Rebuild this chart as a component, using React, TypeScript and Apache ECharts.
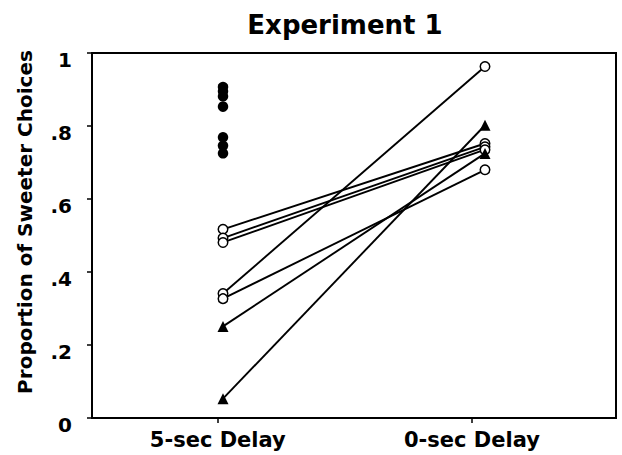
import React, { useEffect, useRef } from "react";
import * as echarts from "echarts";

const CATEGORIES = ["5-sec Delay", "0-sec Delay"];
const Y_TICK_LABELS = ["0", ".2", ".4", ".6", ".8", "1"];
const TITLE = "Experiment 1";
const Y_NAME = "Proportion of Sweeter Choices";

// subjects with open circles: 5-sec value, 0-sec value
const CIRCLE_5SEC = [0.517, 0.493, 0.481, 0.341, 0.327];
const CIRCLE_0SEC = [0.752, 0.743, 0.735, 0.963, 0.68];
// subjects with triangles
const TRIANGLE_5SEC = [0.251, 0.053];
const TRIANGLE_0SEC = [0.725, 0.802];
// filled circles at 5-sec only
const FILLED_5SEC = [0.907, 0.895, 0.881, 0.853, 0.769, 0.746, 0.725];

const FONT = "DejaVu Sans";

export default function App() {
  const ref = useRef<HTMLDivElement>(null);
  useEffect(() => {
    document.body.style.margin = "0";
    const chart = echarts.init(ref.current!, null, { renderer: "svg" });
    const lineStyle = { color: "#000", width: 1.9, opacity: 1 };
    const series: any[] = [];
    CIRCLE_5SEC.forEach((v, i) => {
      series.push({
        type: "line",
        data: [
          [0, v],
          [1, CIRCLE_0SEC[i]],
        ],
        symbol: "none",
        lineStyle,
        z: 2,
        silent: true,
      });
    });
    TRIANGLE_5SEC.forEach((v, i) => {
      series.push({
        type: "line",
        data: [
          [0, v],
          [1, TRIANGLE_0SEC[i]],
        ],
        symbol: "none",
        lineStyle,
        z: 2,
        silent: true,
      });
    });
    series.push({
      type: "scatter",
      data: FILLED_5SEC.map((v) => [0, v]),
      symbol: "circle",
      symbolSize: 10.5,
      itemStyle: { color: "#000", opacity: 1 },
      z: 3,
      silent: true,
    });
    series.push({
      type: "scatter",
      data: [
        ...CIRCLE_5SEC.map((v) => [0, v]),
        ...CIRCLE_0SEC.map((v) => [1, v]),
      ],
      symbol: "circle",
      symbolSize: 9.5,
      itemStyle: { color: "#fff", borderColor: "#000", borderWidth: 1.5, opacity: 1 },
      z: 4,
      silent: true,
    });
    series.push({
      type: "scatter",
      data: [
        ...TRIANGLE_5SEC.map((v) => [0, v]),
        ...TRIANGLE_0SEC.map((v) => [1, v]),
      ],
      symbol: "triangle",
      symbolSize: 11,
      itemStyle: { color: "#000", opacity: 1 },
      z: 5,
      silent: true,
    });

    const tickPositions = [-0.02, 0.95];

    chart.setOption({
      animation: false,
      backgroundColor: "#fff",
      textStyle: { fontFamily: FONT },
      grid: {
        left: 92,
        right: 6,
        top: 53,
        bottom: 37,
        show: true,
        borderColor: "#000",
        borderWidth: 2,
        backgroundColor: "transparent",
      },
      xAxis: {
        type: "value",
        min: -0.5,
        max: 1.5,
        splitLine: { show: false },
        axisLine: { show: false, onZero: false },
        axisTick: {
          show: true,
          customValues: tickPositions,
          length: 5,
          lineStyle: { color: "#000", width: 1.5 },
        },
        axisLabel: {
          customValues: tickPositions,
          formatter: (v: number) => (v < 0.5 ? CATEGORIES[0] : CATEGORIES[1]),
          fontSize: 21,
          fontWeight: "bold",
          fontFamily: FONT,
          color: "#000",
          margin: 11,
        },
      },
      yAxis: {
        type: "value",
        min: 0,
        max: 1,
        interval: 0.2,
        splitLine: { show: false },
        axisLine: { show: false, onZero: false },
        axisTick: {
          show: true,
          length: 5,
          lineStyle: { color: "#000", width: 1.5 },
        },
        axisLabel: {
          formatter: (v: number) => Y_TICK_LABELS[Math.round(v / 0.2)],
          fontSize: 20,
          fontWeight: "bold",
          fontFamily: FONT,
          color: "#000",
          margin: 20,
          verticalAlign: "top",
          lineHeight: 14,
        },
      },
      graphic: [
        {
          type: "text",
          x: 345,
          y: 25,
          style: {
            text: TITLE,
            fontSize: 26,
            fontWeight: "bold",
            fontFamily: FONT,
            fill: "#000",
            align: "center",
            verticalAlign: "middle",
          },
        },
        {
          type: "text",
          x: 25,
          y: 222,
          rotation: Math.PI / 2,
          style: {
            text: Y_NAME,
            fontSize: 20,
            fontWeight: "bold",
            fontFamily: FONT,
            fill: "#000",
            align: "center",
            verticalAlign: "middle",
          },
        },
      ],
      series,
    });
    return () => chart.dispose();
  }, []);
  return <div ref={ref} style={{ width: 622, height: 455 }} />;
}
